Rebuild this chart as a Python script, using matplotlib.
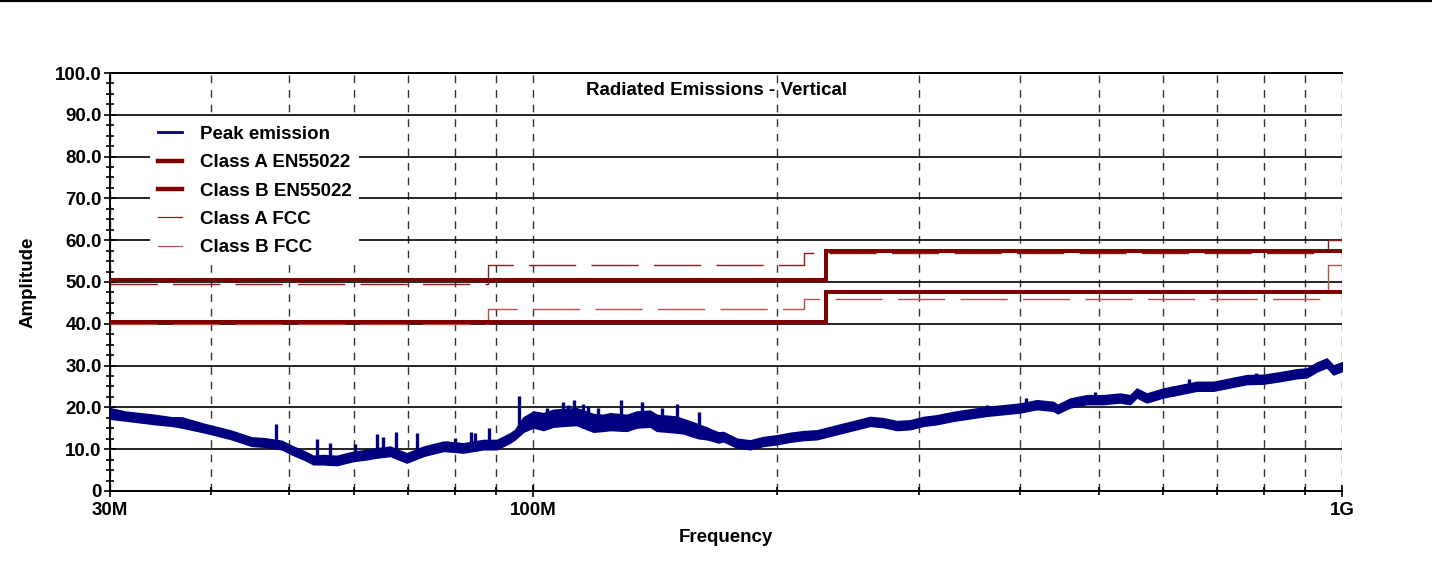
"""Radiated emissions (vertical) scan against EN55022 / FCC limit lines."""

# %% Imports
import numpy as np
import matplotlib
matplotlib.use("Agg")
import matplotlib.pyplot as plt
from matplotlib.lines import Line2D
from matplotlib.ticker import FixedLocator, FixedFormatter, MultipleLocator, NullFormatter

plt.rcParams["font.family"] = ["Liberation Sans", "DejaVu Sans"]
plt.rcParams["font.weight"] = "bold"


# %% Data (frequency in MHz, amplitude in dB)
# peak-emission noise band: lower / upper edge
band_freq = [
    30.0, 31.3, 34.1, 35.8, 36.8, 39.3, 40.1, 42.4, 44.9, 46.6, 48.9, 50.3,
    52.3, 53.5, 55.0, 57.2, 60.0, 62.3, 64.0, 66.6, 69.8, 73.2, 77.5, 80.0,
    82.0, 86.8, 90.2, 93.7, 95.0, 97.3, 100.1, 103.0, 105.9, 109.0, 113.2,
    118.7, 122.2, 124.5, 130.6, 134.3, 139.5, 142.2, 146.3, 150.3, 153.4,
    157.8, 160.5, 164.0, 165.5, 169.5, 171.9, 178.6, 185.5, 192.6, 200.1,
    207.8, 215.9, 224.3, 232.9, 241.9, 251.3, 261.0, 271.0, 281.5, 292.4,
    303.7, 315.5, 330.8, 346.8, 363.7, 381.4, 399.9, 419.4, 439.7, 445.0,
    461.1, 483.5, 506.9, 531.5, 546.9, 557.4, 573.5, 601.2, 630.5, 661.2,
    693.2, 727.0, 762.4, 799.3, 838.2, 879.0, 904.4, 930.5, 957.4, 975.5,
    1000.0,
]
band_low = [
    17.3, 16.9, 16.0, 15.6, 15.2, 14.0, 13.6, 12.4, 10.8, 10.6, 10.0, 8.8,
    7.4, 6.4, 6.4, 6.2, 7.2, 7.6, 8.0, 8.4, 6.8, 8.4, 9.6, 9.4,
    9.2, 10.0, 10.0, 11.6, 12.4, 14.2, 15.2, 14.6, 15.4, 15.6, 15.8,
    14.2, 14.4, 14.6, 14.4, 15.2, 15.4, 14.4, 14.2, 14.0, 13.8,
    13.0, 12.6, 12.4, 12.2, 11.6, 11.9, 10.4, 10.0, 10.8, 11.2,
    11.8, 12.2, 12.4, 13.2, 14.0, 14.8, 15.6, 15.3, 14.6, 14.8,
    15.6, 16.0, 16.8, 17.4, 18.0, 18.4, 18.8, 19.6, 19.2, 18.6,
    20.0, 20.8, 20.8, 21.2, 20.8, 22.4, 21.2, 22.4, 23.2, 24.0,
    24.0, 24.8, 25.6, 25.7, 26.3, 27.0, 27.2, 28.6, 29.6, 27.9,
    28.7,
]
band_high = [
    19.8, 19.0, 18.2, 17.6, 17.6, 16.0, 15.6, 14.4, 12.8, 12.6, 12.0, 10.8,
    9.4, 8.4, 8.6, 8.4, 9.4, 9.8, 10.2, 10.6, 9.0, 10.6, 11.8, 11.6,
    11.4, 12.2, 12.2, 13.8, 14.6, 17.6, 19.0, 18.6, 19.4, 19.6, 19.8,
    18.4, 18.2, 18.6, 18.2, 19.0, 19.2, 18.2, 18.0, 17.8, 17.2,
    16.4, 15.8, 15.2, 14.8, 14.0, 14.1, 12.5, 12.1, 12.9, 13.3,
    13.9, 14.3, 14.5, 15.3, 16.1, 16.9, 17.7, 17.4, 16.7, 16.9,
    17.7, 18.1, 18.9, 19.5, 20.1, 20.5, 20.9, 21.7, 21.3, 20.6,
    22.1, 22.9, 22.9, 23.3, 22.9, 24.5, 23.3, 24.5, 25.3, 26.1,
    26.1, 26.9, 27.7, 27.8, 28.4, 29.1, 29.3, 30.7, 31.7, 30.0,
    30.8,
]
# narrow spikes sticking out of the band (frequency, peak level)
spike_freq = [
    48.1, 54.0, 56.1, 60.2, 64.1, 65.3, 67.7, 71.9, 78.2, 80.1, 83.8, 84.8,
    88.3, 96.2, 104.1, 109.0, 110.6, 112.4, 115.4, 117.0, 120.4, 128.5,
    136.5, 144.5, 150.5, 160.5, 363.7, 406.8, 495.0, 617.5, 647.4, 782.8,
]
spike_top = [
    16.0, 12.4, 11.4, 11.3, 13.6, 12.8, 14.2, 13.9, 12.0, 12.6, 14.2, 13.9,
    15.0, 22.7, 19.8, 21.4, 20.6, 21.8, 20.8, 20.3, 19.8, 21.8,
    21.4, 19.9, 20.8, 19.0, 20.6, 22.2, 23.6, 25.2, 26.7, 28.2,
]

en_edges = [30, 230, 1000]
class_a_en = [50.5, 57.5, 57.5]
class_b_en = [40.5, 47.5, 47.5]

fcc_edges = [30, 88, 216, 960, 1000]
class_a_fcc = [49.5, 54.0, 56.9, 60.0, 60.0]
class_b_fcc = [40.0, 43.5, 46.0, 54.0, 54.0]

major_x = [30, 100, 1000]
major_x_labels = ["30M", "100M", "1G"]
minor_x = [40, 50, 60, 70, 80, 90, 200, 300, 400, 500, 600, 700, 800, 900]
y_ticks = list(range(0, 101, 10))
y_labels = ["0"] + [f"{v:.1f}" for v in y_ticks[1:]]

NAVY = "#000080"
MAROON = "#800000"
FCC_A = "#8b1c1c"
FCC_B = "#b85050"
FS = 13.5


# %% Figure
fig = plt.figure(figsize=(14.32, 5.69), dpi=100)
ax = fig.add_axes([0.0768, 0.1371, 0.8604, 0.7346])
ax.set_xscale("log")

ax.plot(fcc_edges, class_a_fcc, drawstyle="steps-post", color=FCC_A,
        lw=1.0, dashes=(34, 11), zorder=3)
ax.plot(fcc_edges, class_b_fcc, drawstyle="steps-post", color=FCC_B,
        lw=1.0, dashes=(34, 11), zorder=3)
ax.plot(en_edges, class_a_en, drawstyle="steps-post", color=MAROON,
        lw=2.9, zorder=4, solid_joinstyle="miter")
ax.plot(en_edges, class_b_en, drawstyle="steps-post", color=MAROON,
        lw=2.9, zorder=4, solid_joinstyle="miter")

# peak emission: noise band plus spikes rising from the band's lower edge
ax.fill_between(band_freq, band_low, band_high, color=NAVY, lw=1.2,
                edgecolor=NAVY, zorder=5)
spike_base = np.interp(spike_freq, band_freq, band_low)
ax.vlines(spike_freq, spike_base, spike_top, color=NAVY, lw=2.4, zorder=5)

ax.set_xlim(30, 1000)
ax.set_ylim(0, 100)

ax.xaxis.set_major_locator(FixedLocator(major_x))
ax.xaxis.set_major_formatter(FixedFormatter(major_x_labels))
ax.xaxis.set_minor_locator(FixedLocator(minor_x))
ax.xaxis.set_minor_formatter(NullFormatter())
ax.yaxis.set_major_locator(FixedLocator(y_ticks))
ax.yaxis.set_major_formatter(FixedFormatter(y_labels))
ax.yaxis.set_minor_locator(MultipleLocator(2.5))

ax.grid(axis="y", which="major", color="black", lw=1.2, ls="-", zorder=1)
ax.grid(axis="x", which="both", color="#333333", lw=1.0,
        ls=(0, (5.5, 5)), zorder=1)
ax.set_axisbelow(True)

ax.tick_params(which="both", direction="inout", color="black", width=1.2,
               labelsize=FS)
ax.tick_params(which="major", length=8)
ax.tick_params(which="minor", length=5.5)
ax.tick_params(axis="y", pad=2)
ax.tick_params(axis="x", pad=4)

for side in ("left", "bottom", "top"):
    ax.spines[side].set_linewidth(1.4)
ax.spines["right"].set_visible(False)

ax.text(0.4927, 0.959, "Radiated Emissions - Vertical", transform=ax.transAxes,
        ha="center", va="center", fontsize=FS, fontweight="bold")

handles = [
    Line2D([], [], color=NAVY, lw=2.0),
    Line2D([], [], color=MAROON, lw=3.2),
    Line2D([], [], color=MAROON, lw=3.2),
    Line2D([], [], color=FCC_A, lw=0.9),
    Line2D([], [], color=FCC_B, lw=0.9),
]
labels = ["Peak emission", "Class A EN55022", "Class B EN55022",
          "Class A FCC", "Class B FCC"]
leg = ax.legend(handles, labels, loc="upper left",
                bbox_to_anchor=(0.0325, 0.892), borderaxespad=0,
                borderpad=0.4, handlelength=1.3, handletextpad=0.95,
                labelspacing=0.6, frameon=True, fancybox=False,
                prop={"size": FS, "weight": "bold"})
leg.get_frame().set_facecolor("white")
leg.get_frame().set_edgecolor("none")
leg.get_frame().set_alpha(1.0)
leg.set_zorder(10)

fig.text(28 / 1432, 1 - 282 / 569, "Amplitude", rotation=90, ha="center",
         va="center", fontsize=FS, fontweight="bold")
fig.text(726 / 1432, 1 - 538 / 569, "Frequency", ha="center", va="center",
         fontsize=FS, fontweight="bold")

fig.add_artist(Line2D([0, 1], [0.998, 0.998], transform=fig.transFigure,
                      color="black", lw=1.6))

fig.savefig("out.png", dpi=100)
plt.close(fig)
